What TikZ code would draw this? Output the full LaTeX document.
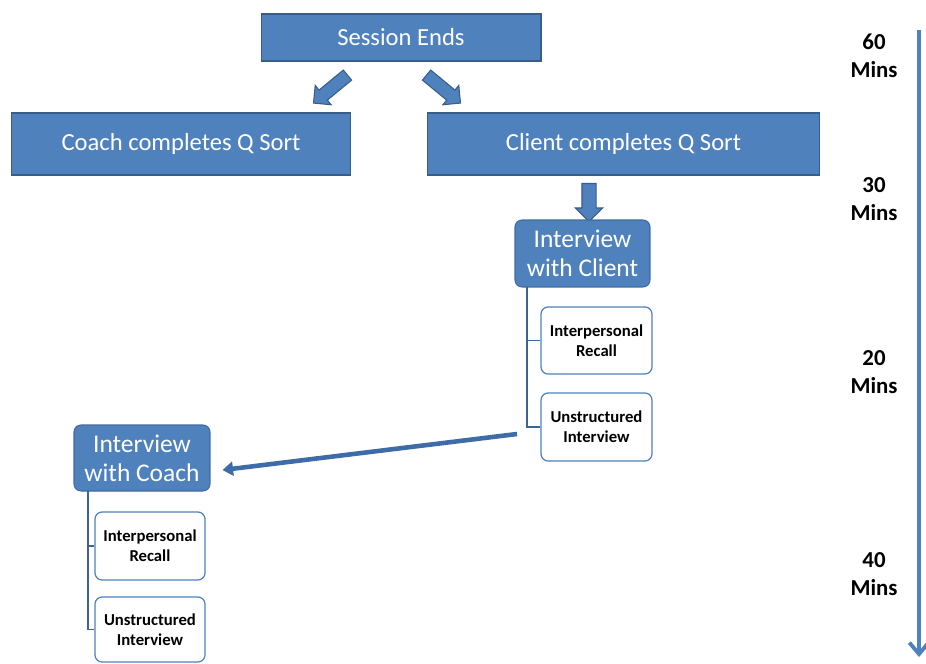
\documentclass[tikz,border=0pt]{standalone}
\usepackage{fontspec}
\setmainfont{Carlito}
\usetikzlibrary{shapes.arrows,arrows.meta}
\definecolor{fillb}{HTML}{4F81BD}
\definecolor{edgeb}{HTML}{385D8A}
\definecolor{darkb}{HTML}{3D6CA8}
\begin{document}
\begin{tikzpicture}[x=0.02cm,y=-0.02cm,
  bigbox/.style={draw=edgeb, fill=fillb, text=white, inner sep=0pt, line width=0.6pt,
    font=\fontsize{14pt}{16pt}\selectfont},
  headbox/.style={draw=edgeb!60!fillb, fill=fillb, text=white, inner sep=0pt, line width=0.6pt,
    rounded corners=4pt, align=center, font=\fontsize{14.5pt}{16.4pt}\selectfont},
  subbox/.style={draw=fillb, fill=white, text=black, inner sep=0pt, line width=0.7pt,
    rounded corners=4pt, align=center, font=\fontsize{9.5pt}{11.5pt}\selectfont\bfseries},
  blockarrow/.style={single arrow, draw=edgeb, fill=fillb, inner sep=0.12cm, line width=0.6pt,
    single arrow head extend=0.12cm, minimum height=0.88cm},
  treeline/.style={draw=edgeb!80!fillb, line width=1.1pt},
  timelabel/.style={align=center, text=black, font=\fontsize{13pt}{15.9pt}\selectfont\bfseries},
  longarrow/.style={draw=darkb, line width=2.6pt, -{Triangle[width=8pt,length=6pt]}},
  timearrow/.style={draw=fillb, line width=2.2pt, -{Straight Barb[width=11pt,length=6.5pt,line width=2.2pt]}}
]
\useasboundingbox (0,0) rectangle (926,663);

% top boxes
\node[bigbox, minimum width=5.6cm, minimum height=0.94cm] (se) at (401,37.5) {Session Ends};
\node[bigbox, minimum width=6.8cm, minimum height=1.24cm] (coachqs) at (181,144) {Coach completes Q Sort};
\node[bigbox, minimum width=7.86cm, minimum height=1.24cm] (clientqs) at (623.5,144) {Client completes Q Sort};

% block arrows
\node[blockarrow, rotate=219.5] (al) at (333,87) {};
\node[blockarrow, rotate=-39.5] (ar) at (441,87) {};
\node[blockarrow, rotate=-90, minimum height=0.76cm, inner sep=0.13cm, single arrow head extend=0.13cm] (ad) at (589,199) {};

% client interview
\node[headbox, minimum width=2.7cm, minimum height=1.34cm] (icl) at (582.5,253.5) {Interview\\with Client};
\node[subbox, minimum width=2.22cm, minimum height=1.34cm] (ircl) at (596.5,340.5) {Interpersonal\\Recall};
\node[subbox, minimum width=2.22cm, minimum height=1.36cm] (uicl) at (596.5,427) {Unstructured\\Interview};
\coordinate (tcl) at (527,287);
\draw[treeline] (tcl) |- (ircl.west);
\draw[treeline] (tcl) |- (uicl.west);

% coach interview
\node[headbox, minimum width=2.72cm, minimum height=1.32cm] (ico) at (142,458) {Interview\\with Coach};
\node[subbox, minimum width=2.2cm, minimum height=1.36cm] (irco) at (150,546) {Interpersonal\\Recall};
\node[subbox, minimum width=2.2cm, minimum height=1.3cm] (uico) at (150,629.5) {Unstructured\\Interview};
\coordinate (tco) at (88,491);
\draw[treeline] (tco) |- (irco.west);
\draw[treeline] (tco) |- (uico.west);

% long arrow
\coordinate (lstart) at (517,434);
\draw[longarrow] (lstart) -- ([shift={(12,12)}]ico.east);

% time axis
\coordinate (ts) at (919,30);
\coordinate (te) at (919,657);
\draw[timearrow] (ts) -- (te);
\node[timelabel] (t60) at (874,56) {60\\Mins};
\node[timelabel] (t30) at (874,199.5) {30\\Mins};
\node[timelabel] (t20) at (874,372.5) {20\\Mins};
\node[timelabel] (t40) at (874,574.5) {40\\Mins};
\end{tikzpicture}
\end{document}
